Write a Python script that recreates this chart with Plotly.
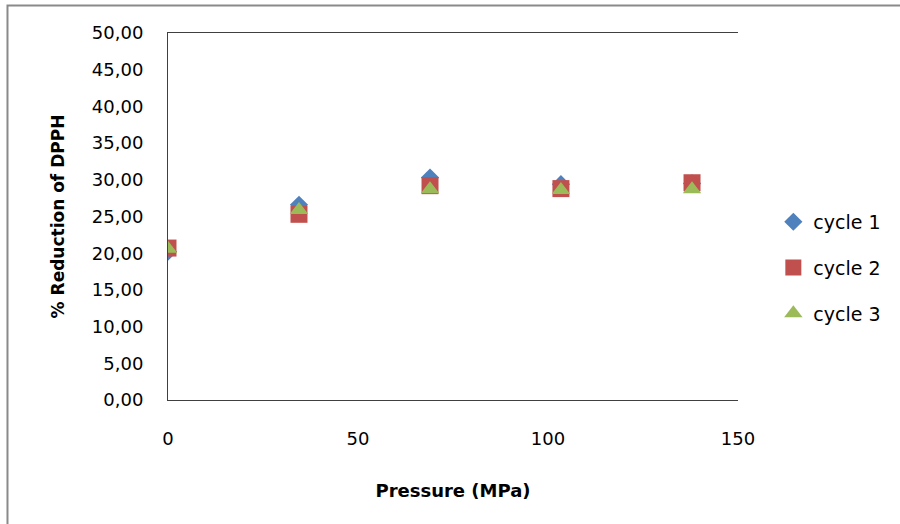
import plotly.graph_objects as go

pressure = [0, 34.47, 68.95, 103.4, 137.9]
cycle1 = [20.2, 26.6, 30.3, 29.4, 29.5]
cycle2 = [20.7, 25.3, 29.2, 28.8, 29.6]
cycle3 = [20.6, 25.9, 28.7, 28.6, 28.7]
series_names = ["cycle 1", "cycle 2", "cycle 3"]
y_ticks = [0, 5, 10, 15, 20, 25, 30, 35, 40, 45, 50]
y_tick_labels = ["0,00", "5,00", "10,00", "15,00", "20,00", "25,00", "30,00", "35,00", "40,00", "45,00", "50,00"]
x_ticks = [0, 50, 100, 150]

FONT = "DejaVu Sans"
fig = go.Figure()
styles = [
    dict(symbol="diamond", color="#4F81BD", size=14),
    dict(symbol="square", color="#C0504D", size=17),
    dict(symbol="triangle-up", color="#9BBB59", size=16),
]
for name, vals, st, g in zip(series_names, [cycle1, cycle2, cycle3], styles, ["a", "b", "c"]):
    fig.add_trace(go.Scatter(
        x=pressure, y=vals, mode="markers", name=name, legendgroup=g,
        marker=dict(symbol=st["symbol"], color=st["color"], size=st["size"], line=dict(width=0)),
    ))

fig.update_layout(
    width=900, height=524,
    margin=dict(l=168, r=162, t=33, b=124),
    paper_bgcolor="white", plot_bgcolor="white",
    font=dict(family=FONT, size=18, color="#000000"),
    showlegend=True,
    legend=dict(x=1.062, y=0.36, yanchor="middle", xanchor="left",
                font=dict(family=FONT, size=19), tracegroupgap=18,
                itemsizing="trace", bgcolor="rgba(0,0,0,0)", borderwidth=0),
    xaxis=dict(range=[0, 150], tickvals=x_ticks, showgrid=False, zeroline=False,
               showline=True, linecolor="#404040", linewidth=1, mirror=True, ticks="",
               ticklabelstandoff=22, tickfont=dict(family=FONT, size=18),
               title=dict(text="<b>Pressure (MPa)</b>", font=dict(family=FONT, size=18), standoff=36)),
    yaxis=dict(range=[0, 50], tickvals=y_ticks, ticktext=y_tick_labels, showgrid=False,
               zeroline=False, showline=True, linecolor="#404040", linewidth=1, ticks="",
               ticklabelstandoff=20, tickfont=dict(family=FONT, size=18),
               title=dict(text="<b>% Reduction of DPPH</b>", font=dict(family=FONT, size=17), standoff=22)),
    shapes=[dict(type="rect", xref="paper", yref="paper", x0=-0.2816, x1=2.0, y0=-1.0, y1=1.0749,
                 line=dict(color="#8a8a8a", width=2), fillcolor="rgba(0,0,0,0)", layer="below")],
)

fig.write_html("out.html", config={"displayModeBar": False},
               post_script="document.body.style.margin='0';document.body.style.overflow='hidden';")
